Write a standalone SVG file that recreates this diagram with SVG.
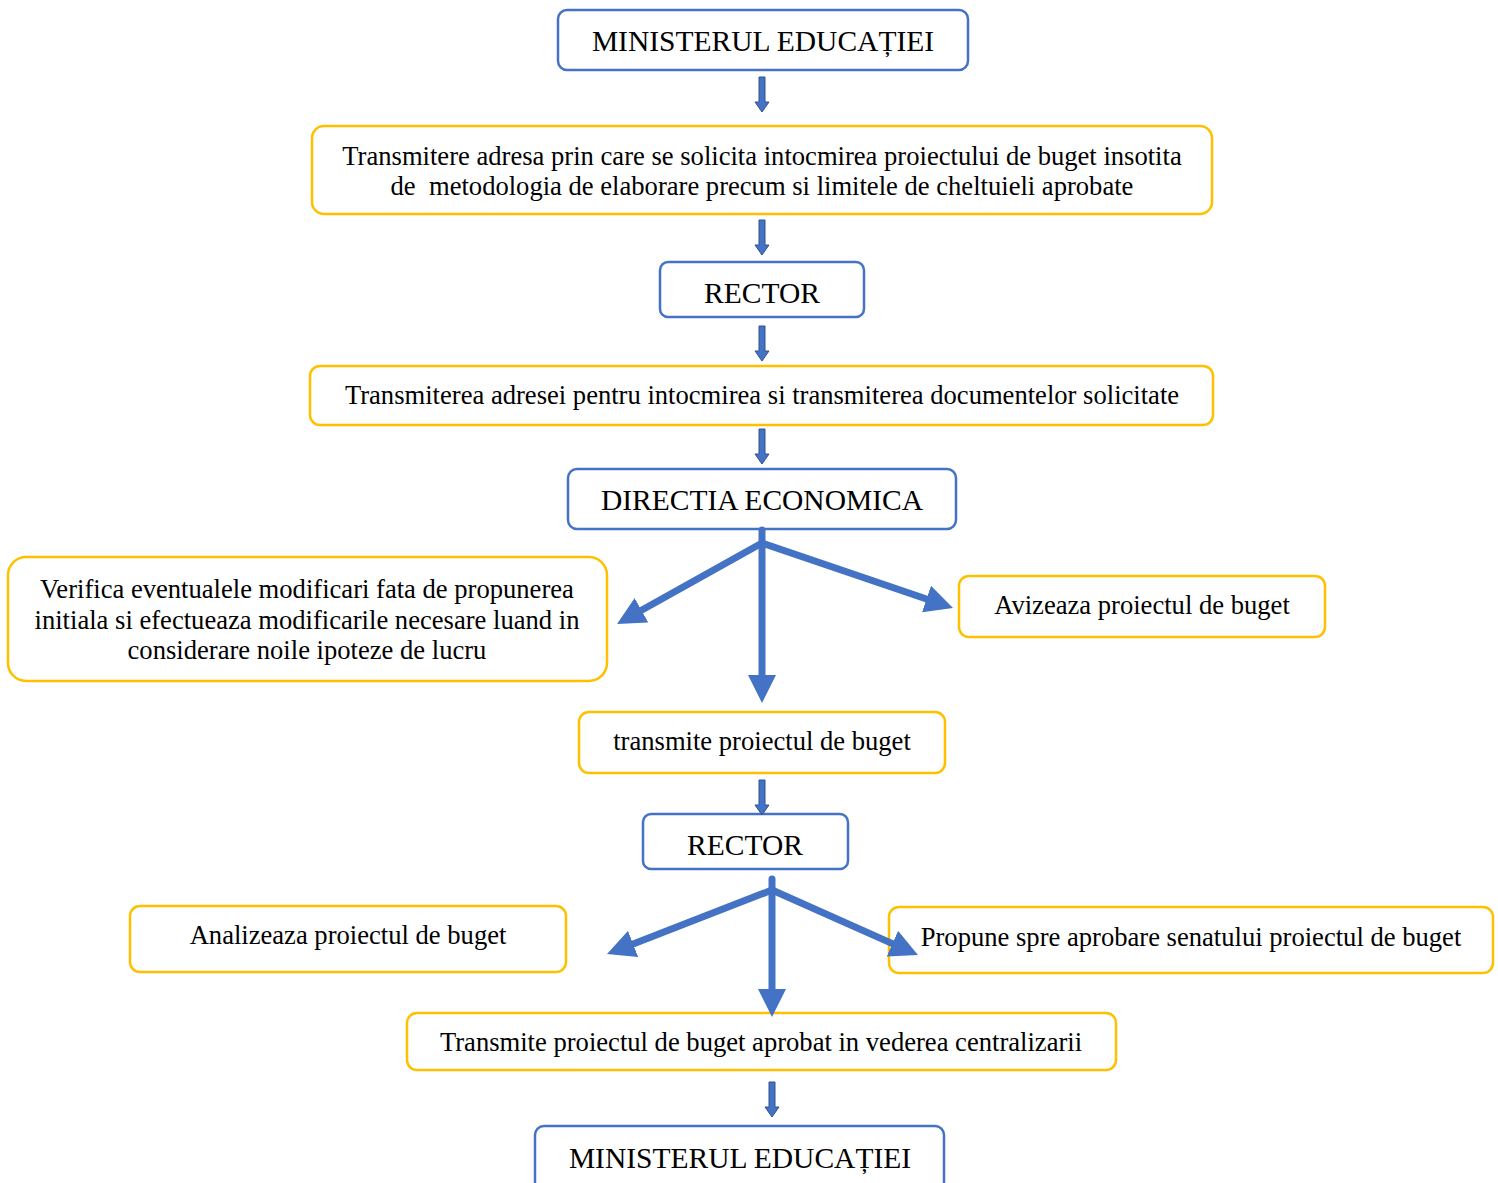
<svg xmlns="http://www.w3.org/2000/svg" xmlns:xlink="http://www.w3.org/1999/xlink" width="1498" height="1183" viewBox="0 0 1498 1183">
<style>
.b{fill:#fff;stroke:#4472C4;stroke-width:2.5}
.y{fill:#fff;stroke:#FFC000;stroke-width:2.5}
text{font-family:"Liberation Serif","Times New Roman",serif;fill:#000;text-anchor:middle}
.t{font-size:29.5px}
.s{font-size:26.6px}
.big{fill:none;stroke:#4472C4;stroke-width:7;stroke-linecap:round;marker-end:url(#h)}
.sa{fill:#4472C4;stroke:#2F528F;stroke-width:1}
</style>
<defs>
<marker id="h" markerUnits="userSpaceOnUse" markerWidth="28" markerHeight="28" viewBox="0 0 28 28" refX="0" refY="14" orient="auto">
<path d="M0,0 L28,14 L0,28 Z" fill="#4472C4"/>
</marker>
<path id="sa" d="M-3,0 H3 V25 H7 L0,35 L-7,25 H-3 Z"/>
</defs>
<rect width="1498" height="1183" fill="#fff"/>
<g id="n1"><rect class="b" x="558" y="10" width="410" height="60" rx="9"/><text class="t" x="763" y="51">MINISTERUL EDUCAȚIEI</text></g>
<g id="n2"><rect class="y" x="312" y="126" width="900" height="88" rx="12"/><text class="s" x="762" y="165">Transmitere adresa prin care se solicita intocmirea proiectului de buget insotita</text><text class="s" x="762" y="195" xml:space="preserve">de  metodologia de elaborare precum si limitele de cheltuieli aprobate</text></g>
<g id="n3"><rect class="b" x="660" y="262" width="204" height="55" rx="8"/><text class="t" x="762" y="303">RECTOR</text></g>
<g id="n4"><rect class="y" x="310" y="366" width="903" height="59" rx="10"/><text class="s" x="762" y="404">Transmiterea adresei pentru intocmirea si transmiterea documentelor solicitate</text></g>
<g id="n5"><rect class="b" x="568" y="469" width="388" height="60" rx="9"/><text class="t" x="762" y="510">DIRECTIA ECONOMICA</text></g>
<g id="n6"><rect class="y" x="8" y="557" width="599" height="124" rx="18"/><text class="s" x="307" y="598">Verifica eventualele modificari fata de propunerea</text><text class="s" x="307" y="629">initiala si efectueaza modificarile necesare luand in</text><text class="s" x="307" y="659">considerare noile ipoteze de lucru</text></g>
<g id="n7"><rect class="y" x="959" y="576" width="366" height="61" rx="10"/><text class="s" x="1142" y="614">Avizeaza proiectul de buget</text></g>
<g id="n8"><rect class="y" x="579" y="712" width="366" height="61" rx="10"/><text class="s" x="762" y="750">transmite proiectul de buget</text></g>
<g id="n9"><rect class="b" x="643" y="814" width="205" height="55" rx="8"/><text class="t" x="745" y="855">RECTOR</text></g>
<g id="n10"><rect class="y" x="130" y="906" width="436" height="66" rx="10"/><text class="s" x="348" y="944">Analizeaza proiectul de buget</text></g>
<g id="n11"><rect class="y" x="889" y="907" width="604" height="66" rx="10"/><text class="s" x="1191" y="946">Propune spre aprobare senatului proiectul de buget</text></g>
<g id="n12"><rect class="y" x="407" y="1013" width="709" height="57" rx="10"/><text class="s" x="761" y="1051">Transmite proiectul de buget aprobat in vederea centralizarii</text></g>
<g id="n13"><rect class="b" x="535" y="1126" width="409" height="70" rx="9"/><text class="t" x="740" y="1168">MINISTERUL EDUCAȚIEI</text></g>
<g id="connectors">
<use class="sa" href="#sa" x="762" y="77"/>
<use class="sa" href="#sa" x="762" y="220"/>
<use class="sa" href="#sa" x="762" y="326"/>
<use class="sa" href="#sa" x="762" y="429"/>
<use class="sa" href="#sa" x="762" y="780"/>
<use class="sa" href="#sa" x="772" y="1082"/>
<path class="big" d="M762,530 V675"/>
<path class="big" d="M762,543 L641.5,610.3"/>
<path class="big" d="M762,543 L926.5,599"/>
<path class="big" d="M772,879 V989"/>
<path class="big" d="M772,890 L633.1,943.9"/>
<path class="big" d="M772,890 L892.4,943.6"/>
</g>
</svg>
